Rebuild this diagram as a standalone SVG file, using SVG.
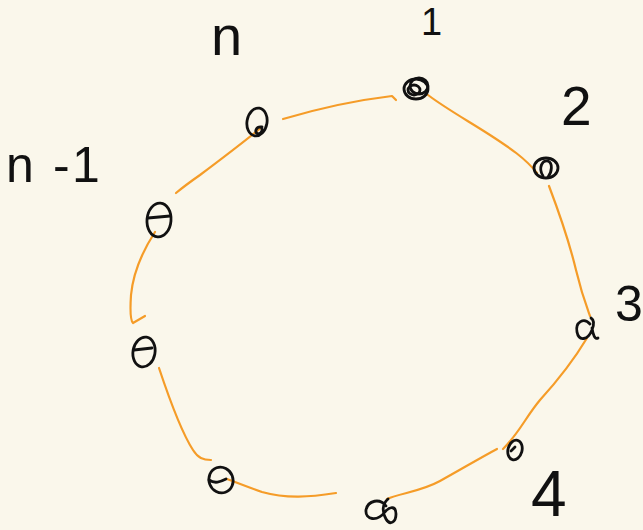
<svg xmlns="http://www.w3.org/2000/svg" width="643" height="530" viewBox="0 0 643 530">
<style>
.bg{fill:#faf7eb}
.edge{fill:none;stroke:#f59c28;stroke-width:2.2;stroke-linecap:round;stroke-linejoin:round}
.node{fill:none;stroke:#111;stroke-width:2.8;stroke-linecap:round;stroke-linejoin:round}
.lbl{font-family:"Liberation Sans","DejaVu Sans",sans-serif;fill:#111}
</style>
<rect class="bg" x="0" y="0" width="643" height="530"/>
<g id="connectors">
<path class="edge" d="M428,95 C445,108 470,122 490,135 C510,148 525,158 537,173"/>
<path class="edge" d="M549,186 C560,215 570,245 576,270 C582,295 586,305 590,316"/>
<path class="edge" d="M587,338 C575,358 560,378 540,400 C525,418 520,432 503,449"/>
<path class="edge" d="M497,449 C480,458 460,470 440,481 C420,492 400,493 387,499"/>
<path class="edge" d="M336,493 C310,497 287,499 262,492 C245,486 235,482 227,479"/>
<path class="edge" d="M159,368 C168,395 180,430 193,450 C198,458 203,460 211,460"/>
<path class="edge" d="M155,232 C140,255 133,275 131,295 C130,310 130,320 133,323 L145,316"/>
<path class="edge" d="M262,127 C240,145 220,160 200,175 C190,182 182,188 176,193"/>
<path class="edge" d="M283,119 C310,111 350,101 392,96 L396,100"/>
</g>
<g id="node1">
<ellipse class="node" cx="416" cy="89" rx="12" ry="10"/>
<ellipse class="node" cx="419" cy="86" rx="9" ry="8"/>
<ellipse class="node" cx="414" cy="90" rx="6" ry="5"/>
<text class="lbl" x="421" y="35" font-size="38">1</text>
</g>
<g id="node2">
<ellipse class="node" cx="546" cy="168" rx="12" ry="10"/>
<path class="node" d="M543,176 C538,168 542,160 548,161 C553,163 552,172 548,177"/>
<text class="lbl" x="561" y="125" font-size="55">2</text>
</g>
<g id="node3">
<path class="node" d="M590,324 C584,317 575,322 577,332 C579,342 588,340 592,330 C594,325 594,320 591,318 M592,328 C593,335 595,340 598,338"/>
<text class="lbl" x="615" y="321" font-size="50">3</text>
</g>
<g id="node4">
<ellipse class="node" cx="515" cy="450" rx="7" ry="10" transform="rotate(15 515 450)"/>
<path class="node" d="M511,451 L515,447"/>
<text class="lbl" x="531" y="516" font-size="64">4</text>
</g>
<g id="node5">
<path class="node" d="M386,506 C380,498 368,500 366,510 C365,520 377,522 385,512 C390,506 396,506 396,514 C396,522 390,526 386,519 C382,512 382,504 388,499"/>
</g>
<g id="node_n3">
<ellipse class="node" cx="221" cy="480" rx="12" ry="13" transform="rotate(-20 221 480)"/>
<path class="node" d="M209,480 C215,484 220,482 226,479"/>
</g>
<g id="node_n2">
<ellipse class="node" cx="144" cy="352" rx="11" ry="15" transform="rotate(10 144 352)"/>
<path class="node" d="M134,350 L152,348"/>
</g>
<g id="node_n1">
<ellipse class="node" cx="159" cy="220" rx="12" ry="17" transform="rotate(5 159 220)"/>
<path class="node" d="M148,218 L170,216"/>
<text class="lbl" y="182" font-size="50"><tspan x="6">n</tspan><tspan x="53">-</tspan><tspan x="72">1</tspan></text>
</g>
<g id="node_n">
<ellipse class="node" cx="257" cy="122" rx="10" ry="14" transform="rotate(10 257 122)"/>
<path class="node" d="M262,127 C256,126 254,132 258,134 C262,134 263,129 261,127"/>
<text class="lbl" x="211" y="55" font-size="56">n</text>
</g>
</svg>
